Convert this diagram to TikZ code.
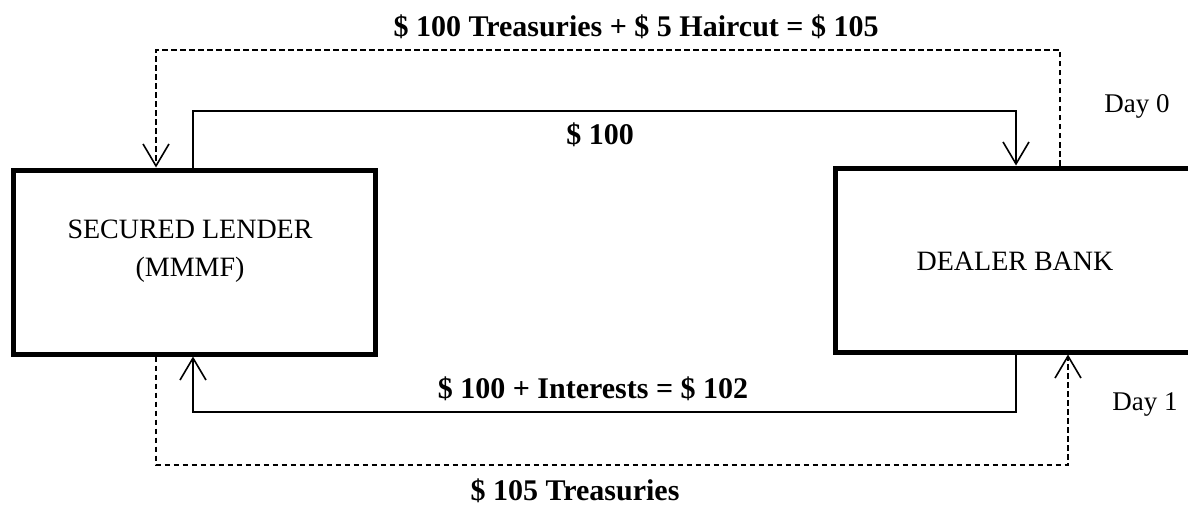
\documentclass[tikz,border=0pt]{standalone}
\usepackage{fontspec}
\setmainfont{Liberation Serif}
\usetikzlibrary{arrows.meta}
\begin{document}
\begin{tikzpicture}[x=1pt,y=-1pt,
  party/.style={draw, line width=5pt, inner sep=0pt, rectangle},
  boxtext/.style={font=\fontsize{28}{38}\selectfont, align=center, inner sep=0pt},
  amount/.style={font=\fontsize{30}{36}\selectfont\bfseries, inner sep=0pt, anchor=base},
  daytext/.style={font=\fontsize{27}{32}\selectfont, inner sep=0pt, anchor=base},
  tip/.style={-{Straight Barb[length=22pt,width=26pt,line width=1.6pt]}},
  cashflow/.style={line width=1.6pt, tip},
  collateral/.style={line width=2pt, dash pattern=on 5.5pt off 3.5pt, tip}]
\useasboundingbox (0,0) rectangle (1188,508);
\clip (0,0) rectangle (1188,508);

% parties
\node[party, minimum width=362pt, minimum height=184pt] (lender) at (194,262) {};
\node[party, minimum width=360pt, minimum height=184pt] (bank) at (1015,260) {};
\node[boxtext] (lendertxt) at (190,251) {SECURED LENDER\\(MMMF)};
\node[boxtext, anchor=base] (banktxt) at (1015,270) {DEALER BANK};

% corner coordinates
\coordinate (ctl) at (156,50);
\coordinate (ctr) at (1060,50);
\coordinate (stl) at (193,111);
\coordinate (str) at (1016,111);
\coordinate (sbl) at (193,412);
\coordinate (sbr) at (1016,412);
\coordinate (cbl) at (156,465);
\coordinate (cbr) at (1068,465);

% Day 0
\draw[collateral] (bank.north -| ctr) -- (ctr) -- (ctl) -- (lender.north -| ctl);
\draw[cashflow] (lender.north -| stl) -- (stl) -- (str) -- (bank.north -| str);
% Day 1
\draw[cashflow] (bank.south -| sbr) -- (sbr) -- (sbl) -- (lender.south -| sbl);
\draw[collateral] (lender.south -| cbl) -- (cbl) -- (cbr) -- (bank.south -| cbr);

% labels
\node[amount] (haircut) at (636,37) {\$ 100 Treasuries + \$ 5 Haircut = \$ 105};
\node[amount] (cash) at (600,144) {\$ 100};
\node[amount] (repay) at (593,398) {\$ 100 + Interests = \$ 102};
\node[amount] (treas) at (575,500) {\$ 105 Treasuries};
\node[daytext] (day0) at (1137,113) {Day 0};
\node[daytext] (day1) at (1145,410) {Day 1};
\end{tikzpicture}
\end{document}
